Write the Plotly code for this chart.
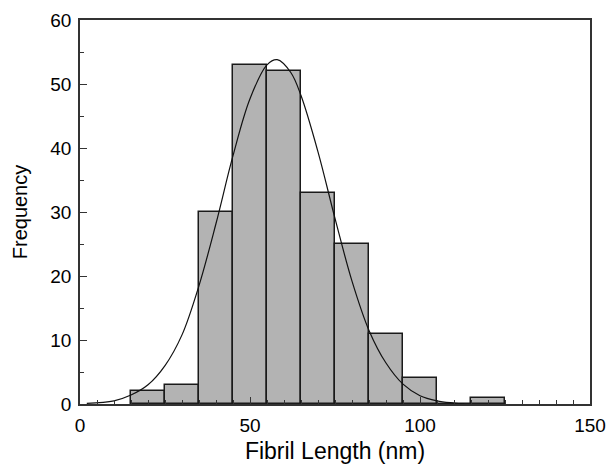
import plotly.graph_objects as go

# histogram bins (centre, nm) and counts
bin_centers = [20, 30, 40, 50, 60, 70, 80, 90, 100, 110, 120]
counts = [2, 3, 30, 53, 52, 33, 25, 11, 4, 0, 1]

# fitted curve
curve_x = [2, 10, 15, 20, 25, 30, 35, 40, 45, 50, 55, 58, 62, 65, 70, 75, 80, 85, 90, 95, 100, 105, 110, 113]
curve_y = [0.1, 0.5, 1.4, 3.0, 6.0, 10.8, 18.5, 28.2, 38.8, 47.7, 53.0, 53.8, 51.8, 48.2, 39.4, 29.0, 19.2, 11.5, 6.4, 3.1, 1.3, 0.5, 0.15, 0.0]

FONT = 'Liberation Sans, Arial, Helvetica'

fig = go.Figure()
fig.add_trace(go.Bar(
    x=bin_centers, y=counts, width=10,
    marker=dict(color='#b3b3b3', line=dict(color='#1a1a1a', width=1.5)),
    showlegend=False,
))
fig.add_trace(go.Scatter(
    x=curve_x, y=curve_y, mode='lines',
    line=dict(color='#111111', width=1.2, shape='spline'),
    showlegend=False,
))

axis_common = dict(
    showline=True, linecolor='#333333', linewidth=1.5, mirror=True,
    showgrid=False, zeroline=False,
    ticks='inside', ticklen=7, tickwidth=1.2, tickcolor='#333333',
    tickfont=dict(family=FONT, size=19, color='black'),
    automargin=False,
)

fig.update_layout(
    width=608, height=464,
    margin=dict(l=80, r=18, t=20, b=60),
    paper_bgcolor='white', plot_bgcolor='white',
    bargap=0,
    xaxis=dict(axis_common, range=[0, 150], tickvals=[0, 50, 100, 150],
               ticklabelstandoff=3,
               minor=dict(dtick=5, tick0=0, ticklen=4, ticks='inside', tickcolor='#333333'),
               title=dict(text='Fibril Length (nm)', standoff=9,
                          font=dict(family=FONT, size=23, color='black'))),
    yaxis=dict(axis_common, range=[0, 60], dtick=10,
               ticklabelstandoff=3,
               minor=dict(dtick=5, tick0=0, ticklen=4, ticks='inside', tickcolor='#333333'),
               title=dict(text='Frequency', standoff=17,
                          font=dict(family=FONT, size=20, color='black'))),
)

# drop the page margin / scrollbar so the figure fills the window
fig.write_html("out.html", config={'displayModeBar': False},
               post_script="document.body.style.margin='0';document.body.style.overflow='hidden';")
